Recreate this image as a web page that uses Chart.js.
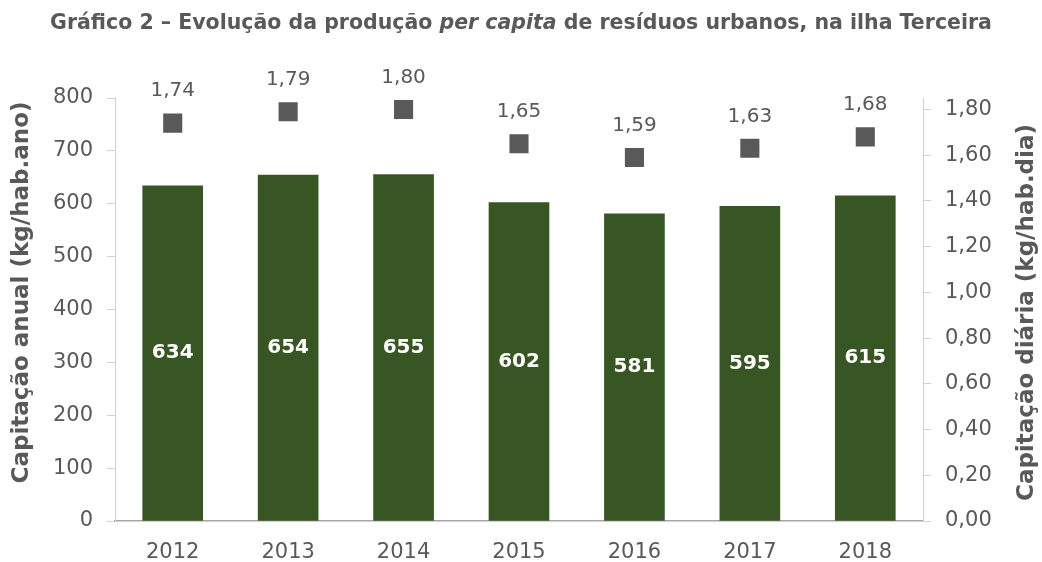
<!DOCTYPE html>
<html>
<head>
<meta charset="utf-8">
<script src="https://cdn.jsdelivr.net/npm/chart.js@4.4.1/dist/chart.umd.min.js"></script>
<style>
  html, body { margin: 0; padding: 0; background: #fff; }
  #wrap { position: relative; width: 1042px; height: 562px; }
  #title {
    position: absolute; left: 0; top: 10px; width: 1042px; text-align: center;
    font-family: "DejaVu Sans", sans-serif; font-weight: bold; font-size: 20.5px; color: #595959;
  }
  canvas { position: absolute; left: 0; top: 0; }
</style>
</head>
<body>
<div id="wrap">
  <canvas id="chart" width="1042" height="562"></canvas>
  <div id="title">Gráfico 2 – Evolução da produção <i>per capita</i> de resíduos urbanos, na ilha Terceira</div>
</div>
<script>
// dados
const years = ['2012', '2013', '2014', '2015', '2016', '2017', '2018'];
const annual = [634, 654, 655, 602, 581, 595, 615];
const daily = [1.74, 1.79, 1.80, 1.65, 1.59, 1.63, 1.68];
const dailyTicks = [0, 0.2, 0.4, 0.6, 0.8, 1.0, 1.2, 1.4, 1.6, 1.8];

const FONT = '"DejaVu Sans", sans-serif';
const GREY = '#595959';

const fmt = v => v.toFixed(2).replace('.', ',');

// rótulos das barras, dos pontos e títulos dos eixos
const labelsPlugin = {
    id: 'labelsPlugin',
    afterDatasetsDraw(chart) {
        const ctx = chart.ctx;
        ctx.save();
        ctx.textAlign = 'center';
        ctx.textBaseline = 'middle';

        ctx.font = 'bold 20px ' + FONT;
        ctx.fillStyle = '#ffffff';
        chart.getDatasetMeta(0).data.forEach((bar, i) => {
            ctx.fillText(String(annual[i]), bar.x, (bar.y + bar.base) / 2);
        });

        ctx.font = '20px ' + FONT;
        ctx.fillStyle = GREY;
        chart.getDatasetMeta(1).data.forEach((pt, i) => {
            ctx.fillText(fmt(daily[i]), pt.x, pt.y - 32);
        });

        const area = chart.chartArea;
        const mid = (area.top + area.bottom) / 2;
        ctx.font = 'bold 23px ' + FONT;
        ctx.fillStyle = GREY;

        ctx.save();
        ctx.translate(chart.scales.y.left + 22, mid - 17);
        ctx.rotate(-Math.PI / 2);
        ctx.fillText('Capitação anual (kg/hab.ano)', 0, 0);
        ctx.restore();

        ctx.save();
        ctx.translate(chart.scales.y1.right - 15, mid + 3);
        ctx.rotate(-Math.PI / 2);
        ctx.fillText('Capitação diária (kg/hab.dia)', 0, 0);
        ctx.restore();

        ctx.restore();
    }
};

new Chart(document.getElementById('chart').getContext('2d'), {
    type: 'bar',
    data: {
        labels: years,
        datasets: [{
            label: 'Capitação anual',
            data: annual,
            backgroundColor: '#375623',
            barThickness: 60,
            yAxisID: 'y',
            order: 2
        }, {
            type: 'line',
            label: 'Capitação diária',
            data: daily,
            showLine: false,
            pointStyle: 'rect',
            pointRadius: 13.5,
            pointHoverRadius: 13.5,
            pointBorderWidth: 0,
            pointBackgroundColor: GREY,
            pointBorderColor: GREY,
            yAxisID: 'y1',
            order: 1
        }]
    },
    options: {
        responsive: false,
        animation: false,
        layout: { padding: { top: 98, left: 0, right: 0, bottom: 0 } },
        plugins: {
            legend: { display: false },
            tooltip: { enabled: false }
        },
        scales: {
            x: {
                grid: { display: false, drawTicks: false },
                border: { display: true, color: '#a6a6a6', width: 1.5 },
                ticks: { color: GREY, font: { family: FONT, size: 21 }, padding: 19 },
                afterFit(scale) { scale.height = 41; }
            },
            y: {
                position: 'left',
                min: 0,
                max: 800,
                ticks: { stepSize: 100, color: GREY, font: { family: FONT, size: 21 }, padding: 14 },
                grid: { drawOnChartArea: false, drawTicks: true, tickLength: 8, color: '#d0d0d0' },
                border: { color: '#d0d0d0' },
                afterFit(scale) { scale.width = 115; }
            },
            y1: {
                position: 'right',
                min: 0,
                max: 1.85,
                ticks: {
                    color: GREY,
                    font: { family: FONT, size: 21 },
                    padding: 14,
                    callback: v => fmt(v)
                },
                afterBuildTicks(scale) {
                    scale.ticks = dailyTicks.map(v => ({ value: v }));
                },
                grid: { drawOnChartArea: false, drawTicks: true, tickLength: 8, color: '#d0d0d0' },
                border: { color: '#d0d0d0' },
                afterFit(scale) { scale.width = 119; }
            }
        }
    },
    plugins: [labelsPlugin]
});
</script>
</body>
</html>
